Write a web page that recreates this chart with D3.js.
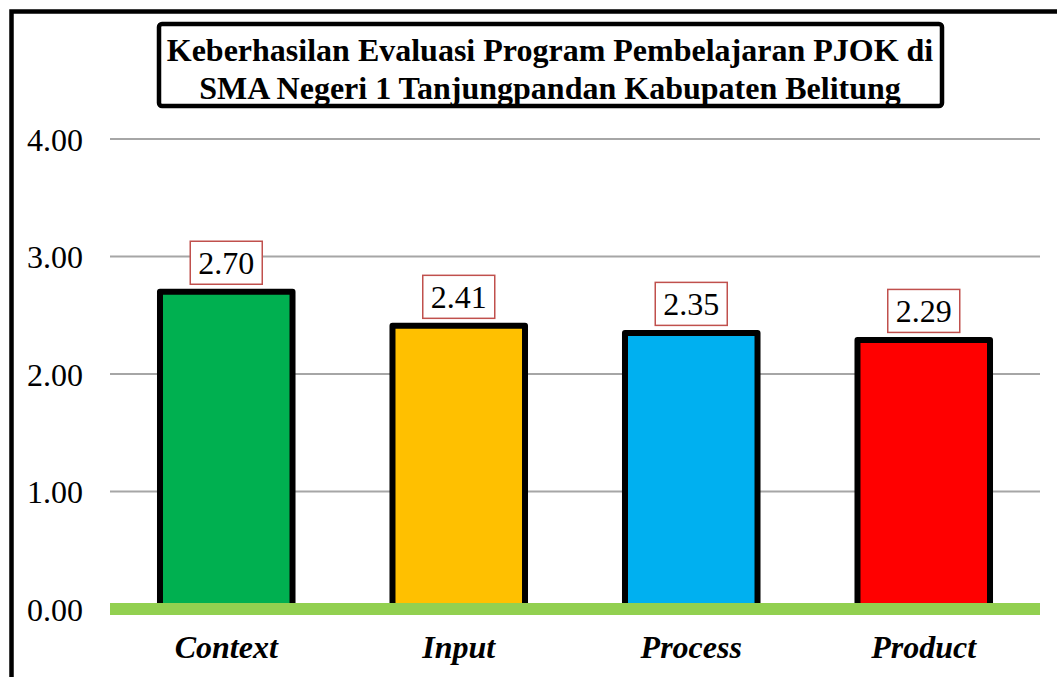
<!DOCTYPE html>
<html><head><meta charset="utf-8">
<script src="https://cdn.jsdelivr.net/npm/d3@7"></script>
<style>html,body{margin:0;padding:0;background:#fff;}svg{display:block;}</style>
</head><body>
<svg id="c" width="1057" height="677"></svg>
<script>
const categories = ["Context","Input","Process","Product"];
const values = [2.70,2.41,2.35,2.29];
const colors = ["#00b050","#ffc000","#00b0f0","#ff0000"];
const yTicks = [0,1,2,3,4];
const titleLines = ["Keberhasilan Evaluasi Program Pembelajaran PJOK di","SMA Negeri 1 Tanjungpandan Kabupaten Belitung"];

const FONT = '"Liberation Serif", "Times New Roman", serif';
const svg = d3.select("#c");
const W = 1057, H = 677;
const m = {left:110, right:17, top:139, bottom:68};

// outer frame (left + top visible)
svg.append("rect").attr("x",11.5).attr("y",11.5).attr("width",W+20).attr("height",H+20)
  .attr("fill","none").attr("stroke","#000").attr("stroke-width",4.5);

const x = d3.scaleBand().domain(categories).range([m.left, W-m.right]).paddingInner(0.43).paddingOuter(0.215);
const y = d3.scaleLinear().domain([0,4]).range([H-m.bottom, m.top]);

// gridlines
svg.append("g").selectAll("line").data(yTicks.filter(d=>d>0)).join("line")
  .attr("x1",m.left).attr("x2",W-m.right).attr("y1",d=>y(d)).attr("y2",d=>y(d))
  .attr("stroke","#a6a6a6").attr("stroke-width",2);

// y axis labels
const yAxis = d3.axisLeft(y).tickValues(yTicks).tickFormat(d3.format(".2f")).tickSize(0).tickPadding(0);
const ya = svg.append("g").attr("transform",`translate(83,0)`).call(yAxis);
ya.select(".domain").remove();
ya.selectAll("text").style("font-size","32px").style("font-family",FONT).attr("fill","#000").attr("dy","0.35em");

// bars
svg.append("g").selectAll("rect").data(values).join("rect")
  .attr("x",(d,i)=>x(categories[i]))
  .attr("width",x.bandwidth())
  .attr("y",d=>y(d))
  .attr("height",d=>y(0)-y(d))
  .attr("fill",(d,i)=>colors[i])
  .attr("stroke","#000").attr("stroke-width",6).attr("stroke-linejoin","round");

// baseline
svg.append("line").attr("x1",m.left).attr("x2",W-m.right).attr("y1",y(0)).attr("y2",y(0))
  .attr("stroke","#92d050").attr("stroke-width",12);

// data labels
const lbl = svg.append("g").selectAll("g").data(values).join("g")
  .attr("transform",(d,i)=>`translate(${x(categories[i])+x.bandwidth()/2},${y(d)-29})`);
lbl.append("rect").attr("x",-36).attr("y",-21.5).attr("width",72).attr("height",43)
  .attr("fill","#fff").attr("stroke","#c0504d").attr("stroke-width",1.5);
lbl.append("text").attr("text-anchor","middle").attr("dy","0.35em")
  .style("font-size","32px").style("font-family",FONT)
  .text(d=>d3.format(".2f")(d));

// x axis labels
const xAxis = d3.axisBottom(x).tickSize(0).tickPadding(0);
const xa = svg.append("g").attr("transform",`translate(0,647)`).call(xAxis);
xa.select(".domain").remove();
xa.selectAll("text").style("font-size","32px").style("font-weight","bold").style("font-style","italic")
  .style("font-family",FONT).attr("fill","#000").attr("dy","0.35em");

// title
svg.append("rect").attr("x",159).attr("y",24).attr("width",783).attr("height",82).attr("rx",3)
  .attr("fill","#fff").attr("stroke","#000").attr("stroke-width",4.5);
svg.append("g").selectAll("text").data(titleLines).join("text")
  .attr("x",550).attr("y",(d,i)=>50+i*38).attr("dy","0.35em").attr("text-anchor","middle")
  .style("font-size","32px").style("font-weight","bold").style("font-family",FONT).text(d=>d);
</script>
</body></html>
